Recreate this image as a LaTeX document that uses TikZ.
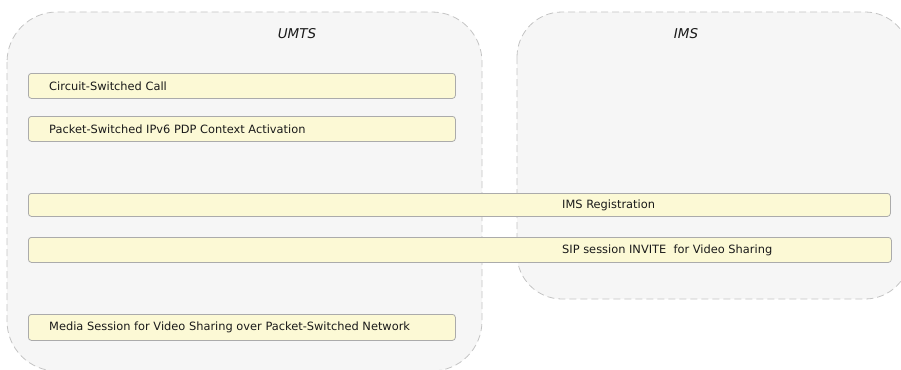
\documentclass[tikz,border=0pt]{standalone}
\usepackage{fontspec}
\setmainfont{DejaVu Sans}
\definecolor{boxfill}{HTML}{F6F6F6}
\definecolor{boxline}{HTML}{C4C4C4}
\definecolor{barfill}{HTML}{FCF9D5}
\definecolor{barline}{HTML}{ABABAB}
\definecolor{txt}{HTML}{1A1A1A}
\begin{document}
\begin{tikzpicture}[x=1pt,y=-1pt,
  container/.style={draw=boxline,fill=boxfill,dash pattern=on 7pt off 4pt,line width=0.8pt,rounded corners=48pt},
  bar/.style={draw=barline,fill=barfill,line width=0.8pt,rounded corners=3pt,minimum height=25pt,inner sep=0pt,anchor=north west},
  bartext/.style={anchor=west,inner sep=0pt,text=txt,font=\fontsize{11.4}{13}\selectfont},
  title/.style={inner sep=0pt,text=txt,font=\fontsize{13.5}{15}\itshape}
]
\useasboundingbox (0,0) rectangle (901,369);
\clip (0,0) rectangle (901,369);
\draw[container,rounded corners=50pt] (7,12) rectangle (482,371);
\draw[container,rounded corners=45pt] (517,12) rectangle (910,299);
\node[title] (umts) at (297,34) {UMTS};
\node[title] (ims) at (686,34) {IMS};
\node[bar,minimum width=427pt] (b1) at (28,73) {};
\node[bar,minimum width=427pt] (b2) at (28,116) {};
\node[bar,minimum width=862pt,minimum height=23pt] (b3) at (28,193) {};
\node[bar,minimum width=863pt] (b4) at (28,237) {};
\node[bar,minimum width=427pt,minimum height=26pt] (b5) at (28,314) {};
\node[bartext] (t1) at ([xshift=21pt]b1.west) {Circuit-Switched Call};
\node[bartext] (t2) at ([xshift=21pt]b2.west) {Packet-Switched IPv6 PDP Context Activation};
\node[bartext] (t3) at ([xshift=534pt]b3.west) {IMS Registration};
\node[bartext] (t4) at ([xshift=534pt]b4.west) {SIP session INVITE\ \ for Video Sharing};
\node[bartext] (t5) at ([xshift=21pt]b5.west) {Media Session for Video Sharing over Packet-Switched Network};
\end{tikzpicture}
\end{document}
